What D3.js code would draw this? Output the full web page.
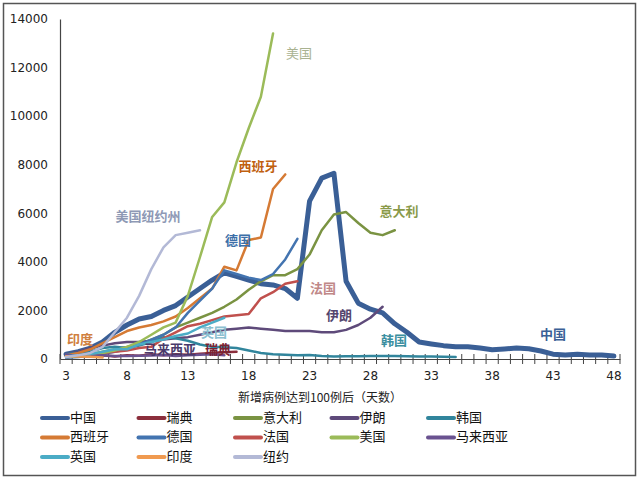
<!DOCTYPE html>
<html><head><meta charset="utf-8">
<script src="https://cdn.jsdelivr.net/npm/d3@7"></script>
<style>body{margin:0;background:#fff}svg{display:block}</style>
</head><body><svg id="c" width="640" height="480"></svg>
<script>
// values start at day 3
const days = d3.range(3, 49);
const yTicks = [0, 2000, 4000, 6000, 8000, 10000, 12000, 14000];
const xTickLabels = [3, 8, 13, 18, 23, 28, 33, 38, 43, 48];

const china = [200,300,450,700,1100,1400,1650,1750,2000,2200,2550,2900,3250,3550,3400,3250,3100,3050,2900,2500,6500,7450,7650,3200,2300,2050,1900,1450,1100,700,620,550,500,500,450,380,410,450,420,330,200,160,200,160,160,120];
const sweden = [100,130,120,150,100,150,130,200,150,200,180,220,250,280,300];
const italy = [100,150,200,300,400,500,600,800,1000,1300,1500,1700,1900,2150,2450,2850,3200,3450,3450,3700,4300,5300,5950,6050,5600,5200,5100,5300];
const iran = [200,300,450,550,650,700,700,750,800,850,900,1000,1100,1200,1250,1300,1250,1200,1150,1150,1150,1100,1100,1200,1400,1700,2150];
const korea = [200,250,300,450,500,450,550,700,900,850,750,600,500,480,450,350,250,200,180,150,160,120,100,110,110,120,120,120,110,100,100,90,80];
const spain = [150,250,400,650,900,1150,1300,1400,1550,1750,2100,2500,2900,3800,3650,4900,5000,7000,7600];
const germany = [50,80,130,200,300,400,600,800,1000,1300,1900,2400,2900,3650,3500,3350,3250,3500,4100,4950];
const france = [100,130,180,250,300,350,450,500,850,1100,1350,1450,1600,1750,1800,1850,2500,2750,3100,3200];
const usa = [80,100,150,250,350,500,700,1000,1300,1500,2600,4200,5850,6450,8100,9500,10800,13400];
const malaysia = [190,110,130,150,120,120,130,140,160,120,150,170,200,150];
const uk = [100,150,200,300,400,400,600,700,800,950,1050,1300,1500,1700];
const india = [110,100,90,60];
const ny = [80,150,250,500,1100,1700,2600,3700,4600,5100,5200,5300];

const series = [
  {name:"中国", v:china, c:"#3A5F96", w:5},
  {name:"瑞典", v:sweden, c:"#8B2E3C", w:2.5},
  {name:"意大利", v:italy, c:"#7A9342", w:2.5},
  {name:"伊朗", v:iran, c:"#5E4A7A", w:2.5},
  {name:"韩国", v:korea, c:"#31859C", w:2.5},
  {name:"西班牙", v:spain, c:"#D57A34", w:2.5},
  {name:"德国", v:germany, c:"#4374B0", w:2.5},
  {name:"法国", v:france, c:"#C0504D", w:2.5},
  {name:"美国", v:usa, c:"#9BBB59", w:2.5},
  {name:"马来西亚", v:malaysia, c:"#6A5290", w:2.5},
  {name:"英国", v:uk, c:"#4BACC6", w:2.5},
  {name:"印度", v:india, c:"#F09A50", w:2.5},
  {name:"纽约", v:ny, c:"#B3B9D6", w:2.5}
];

const labels = [
  {t:"美国", x:299, y:54, c:"#A9B290", b:false},
  {t:"西班牙", x:258, y:167, c:"#C0600F", b:true},
  {t:"美国纽约州", x:148, y:217, c:"#8E99B5", b:true},
  {t:"德国", x:238, y:241, c:"#3C6FA8", b:true},
  {t:"意大利", x:399, y:212, c:"#8A9A4A", b:true},
  {t:"法国", x:323, y:289, c:"#C08888", b:true},
  {t:"伊朗", x:339, y:316, c:"#55466E", b:true},
  {t:"韩国", x:394, y:341, c:"#3B8FA0", b:true},
  {t:"中国", x:553, y:335, c:"#3A5F96", b:true},
  {t:"印度", x:80, y:340, c:"#D08040", b:true},
  {t:"英国", x:214, y:333, c:"#8CC0D0", b:true},
  {t:"马来西亚", x:170, y:350, c:"#4A3A6A", b:true},
  {t:"瑞典", x:218, y:350, c:"#7B2332", b:true}
];

const svg = d3.select("#c");
const font = "'Noto Sans CJK SC','DejaVu Sans',sans-serif";

svg.append("rect").attr("x",3.5).attr("y",3.5).attr("width",632).attr("height",472)
  .attr("fill","#fff").attr("stroke","#555").attr("stroke-width",1.5);

const x = d3.scaleBand().domain(days).range([60, 620]);
const y = d3.scaleLinear().domain([0, 14000]).range([359, 19]);
const cx = d => x(d) + x.bandwidth()/2;

// y axis
const ya = svg.append("g").attr("transform","translate(60,0)")
  .call(d3.axisLeft(y).tickValues(yTicks).tickSize(0).tickPadding(12).tickFormat(d3.format("d")));
ya.select(".domain").attr("stroke","#444").attr("stroke-width",1.2);
ya.selectAll("text").attr("font-family","'DejaVu Sans',sans-serif").attr("font-size",12).attr("fill","#222");

// x axis
const xa = svg.append("g").attr("transform","translate(0,359)")
  .call(d3.axisBottom(x).tickSize(0).tickPadding(12)
    .tickFormat(d => xTickLabels.includes(d) ? d : ""));
xa.select(".domain").attr("stroke","#444").attr("stroke-width",1.2);
xa.selectAll("text").attr("font-family","'DejaVu Sans',sans-serif").attr("font-size",12).attr("fill","#222");
const bounds = days.map(d => x(d)).concat([x.range()[1]]);
svg.append("g").selectAll("line").data(bounds).join("line")
  .attr("x1",d=>d).attr("x2",d=>d).attr("y1",354).attr("y2",364)
  .attr("stroke","#444").attr("stroke-width",1);

svg.append("text").attr("x",320).attr("y",399).attr("text-anchor","middle").attr("dominant-baseline","middle")
  .attr("font-family",font).attr("font-size",12).attr("fill","#222")
  .text("新增病例达到100例后（天数）");

// lines
const line = d3.line().x((v,i)=>cx(days[i])).y(v=>y(v));
svg.append("g").selectAll("path").data(series).join("path")
  .attr("d", s => line(s.v)).attr("fill","none")
  .attr("stroke", s => s.c).attr("stroke-width", s => s.w)
  .attr("stroke-linejoin","round").attr("stroke-linecap","round");

// labels
svg.append("g").selectAll("text").data(labels).join("text")
  .attr("x",d=>d.x).attr("y",d=>d.y).attr("text-anchor","middle").attr("dominant-baseline","middle")
  .attr("font-family",font).attr("font-size",13).attr("font-weight",d=>d.b?"bold":"normal")
  .attr("fill",d=>d.c).text(d=>d.t);

// legend
const lg = svg.append("g").selectAll("g").data(series).join("g")
  .attr("transform",(d,i)=>`translate(${42 + (i%5)*96.5},${418 + Math.floor(i/5)*19.5})`);
lg.append("line").attr("x1",0).attr("x2",26).attr("y1",0).attr("y2",0)
  .attr("stroke",d=>d.c).attr("stroke-width",4).attr("stroke-linecap","round");
lg.append("text").attr("x",28).attr("y",0).attr("dominant-baseline","middle")
  .attr("font-family",font).attr("font-size",13).attr("fill","#111").text(d=>d.name);
</script></body></html>
